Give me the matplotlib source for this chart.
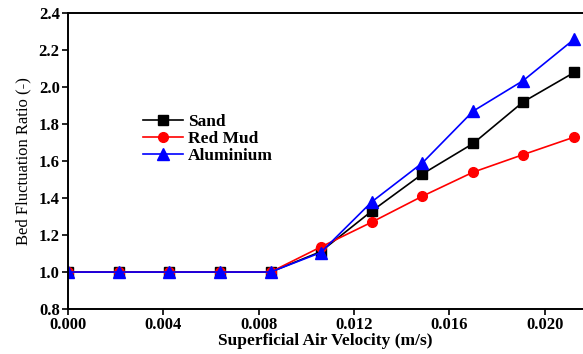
import matplotlib.pyplot as plt

# superficial air velocity (m/s)
velocity = [0.0, 0.00212, 0.00425, 0.00637, 0.0085, 0.0106,
            0.01275, 0.01487, 0.017, 0.0191, 0.02125]

sand = [1.0, 1.0, 1.0, 1.0, 1.0, 1.11, 1.33, 1.53, 1.695, 1.92, 2.08]
red_mud = [1.0, 1.0, 1.0, 1.0, 1.0, 1.135, 1.27, 1.41, 1.54, 1.635, 1.73]
aluminium = [1.0, 1.0, 1.0, 1.0, 1.0, 1.105, 1.38, 1.59, 1.87, 2.035, 2.26]

x_ticks = [0.000, 0.004, 0.008, 0.012, 0.016, 0.020]
y_ticks = [0.8, 1.0, 1.2, 1.4, 1.6, 1.8, 2.0, 2.2, 2.4]

plt.rcParams["font.family"] = ["Liberation Serif", "DejaVu Serif"]

fig = plt.figure(figsize=(5.83, 3.54), dpi=100)
ax = fig.add_axes([0.1166, 0.127, 0.883, 0.836])

ax.plot(velocity, sand, "-s", color="black", markersize=7, linewidth=1.2, label="Sand")
ax.plot(velocity, red_mud, "-o", color="red", markersize=7, linewidth=1.2, label="Red Mud")
ax.plot(velocity, aluminium, "-^", color="blue", markersize=8, linewidth=1.2, label="Aluminium")

ax.set_xlim(0, 0.0216)
ax.set_ylim(0.8, 2.4)
ax.set_xticks(x_ticks)
ax.set_xticklabels([f"{t:.3f}" for t in x_ticks])
ax.set_yticks(y_ticks)
ax.set_yticklabels([f"{t:.1f}" for t in y_ticks])
ax.tick_params(direction="out", length=4, width=1.2, labelsize=12, pad=2)
for lbl in ax.get_xticklabels() + ax.get_yticklabels():
    lbl.set_fontweight("bold")

for side in ["left", "bottom", "top"]:
    ax.spines[side].set_linewidth(1.4)
ax.spines["right"].set_visible(False)

ax.set_xlabel("Superficial Air Velocity (m/s)", fontsize=12.5, fontweight="bold", labelpad=0)
ax.set_ylabel("Bed Fluctuation Ratio (-)", fontsize=12, labelpad=5)

ax.legend(loc="upper left", bbox_to_anchor=(0.146, 0.66), frameon=False,
          prop={"weight": "bold", "size": 12.5}, handlelength=2.3,
          handletextpad=0.3, labelspacing=0.05, borderpad=0, borderaxespad=0)

fig.savefig("out.png", dpi=100)
